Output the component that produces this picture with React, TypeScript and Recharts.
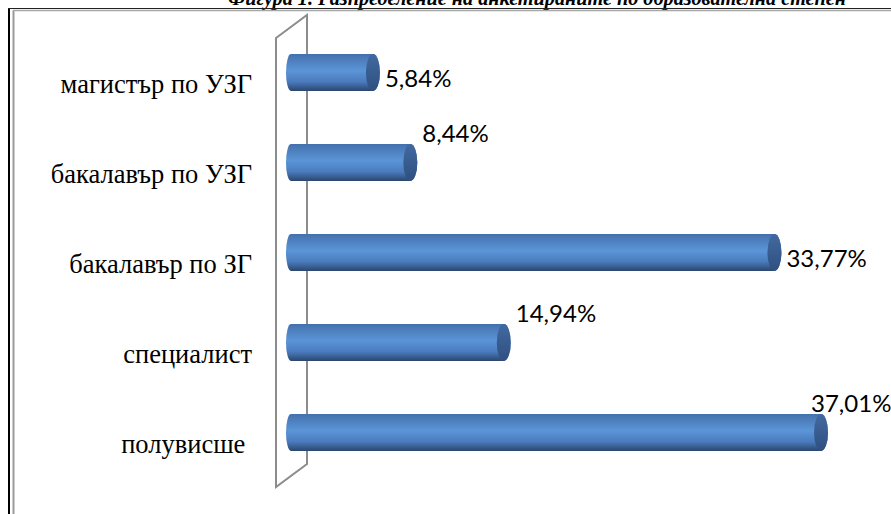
import React from "react";
import { BarChart, Bar, XAxis, YAxis, LabelList } from "recharts";

const categories = [
  "магистър по УЗГ",
  "бакалавър по УЗГ",
  "бакалавър по ЗГ",
  "специалист",
  "полувисше ",
];
const shares = [5.84, 8.44, 33.77, 14.94, 37.01];
// where Excel put each data label: beside the bar end or above it
const labelAbove = [false, true, false, true, true];

const data = categories.map((name, i) => ({ name, value: shares[i] }));

const W = 891;
const H = 514;
const WALL = "#8c8c8c";

function fmt(v: number) {
  return v.toFixed(2).replace(".", ",") + "%";
}

function Cylinder(props: any) {
  const { x, y, width, height } = props;
  const ry = height / 2;
  const xL = x - 10;
  const xE = x + width - 7;
  const body = `M ${xL + 5} ${y} L ${xE} ${y} A 7 ${ry} 0 0 1 ${xE} ${y + height} L ${xL + 5} ${
    y + height
  } A 5 ${ry} 0 0 1 ${xL + 5} ${y} Z`;
  return (
    <g>
      <path d={body} fill="url(#cylBody)" />
      <ellipse cx={xE} cy={y + ry} rx={7} ry={ry} fill="url(#cylCap)" />
    </g>
  );
}

function ValueLabel(props: any) {
  const { x, y, width, height, value, index } = props;
  const text = fmt(value);
  const approxW = text.length * 13;
  let tx = x + width + 5;
  let ty = y + height / 2 + 14;
  if (labelAbove[index]) {
    ty = y - 2;
  }
  if (tx + approxW > W - 2) tx = W - 2 - approxW;
  return (
    <text x={tx} y={ty} fontFamily="Lato, 'Open Sans', sans-serif" fontSize={24} fill="#000">
      {text}
    </text>
  );
}

function CategoryTick(props: any) {
  const { x, y, payload } = props;
  return (
    <text
      x={x}
      y={y + 21}
      textAnchor="end"
      fontFamily="'Liberation Serif', 'Times New Roman', serif"
      fontSize={26.5}
      fill="#000"
      style={{ whiteSpace: "pre" }}
    >
      {payload.value}
    </text>
  );
}

export default function App() {
  return (
    <div style={{ position: "absolute", left: 0, top: 0, width: W, height: H, background: "#fff" }}>
      {/* page frame, cut-off caption and the 3D side wall */}
      <svg width={W} height={H} style={{ position: "absolute", left: 0, top: 0 }}>
        <text
          x={228}
          y={5}
          fontFamily="'Liberation Serif', 'Times New Roman', serif"
          fontStyle="italic"
          fontWeight="bold"
          fontSize={21}
          textLength={618}
          lengthAdjust="spacingAndGlyphs"
        >
          Фигура 1. Разпределение на анкетираните по образователна степен
        </text>
        <line x1={9} y1={8} x2={9} y2={H} stroke="#000" strokeWidth={2} />
        <line x1={8} y1={8.5} x2={W} y2={8.5} stroke="#222" strokeWidth={1} />
        <line x1={13.5} y1={10.5} x2={13.5} y2={H} stroke="#9a9a9a" strokeWidth={2} />
        <line x1={13} y1={10.5} x2={W} y2={10.5} stroke="#a8a8a8" strokeWidth={1.5} />
        <path
          d="M 276 38 L 307 15 L 307 464 L 276 487 Z"
          fill="none"
          stroke={WALL}
          strokeWidth={2}
        />
      </svg>
      <div style={{ position: "absolute", left: 0, top: 0 }}>
        <BarChart
          width={W}
          height={H}
          data={data}
          layout="vertical"
          margin={{ top: 27, right: 20, bottom: 37, left: 0 }}
        >
          <defs>
            <linearGradient id="cylBody" x1="0" y1="0" x2="0" y2="1">
              <stop offset="0%" stopColor="#4471ad" />
              <stop offset="45%" stopColor="#5b95d8" />
              <stop offset="75%" stopColor="#4a7bbd" />
              <stop offset="100%" stopColor="#2b466d" />
            </linearGradient>
            <linearGradient id="cylCap" x1="0" y1="0" x2="0" y2="1">
              <stop offset="0%" stopColor="#4269a0" />
              <stop offset="100%" stopColor="#2f5080" />
            </linearGradient>
          </defs>
          <XAxis type="number" domain={[0, 40]} hide />
          <YAxis
            type="category"
            dataKey="name"
            width={296}
            axisLine={false}
            tickLine={false}
            tickSize={0}
            tickMargin={44}
            tick={<CategoryTick />}
          />
          <Bar dataKey="value" barSize={37} shape={<Cylinder />} isAnimationActive={false}>
            <LabelList dataKey="value" content={<ValueLabel />} />
          </Bar>
        </BarChart>
      </div>
    </div>
  );
}
